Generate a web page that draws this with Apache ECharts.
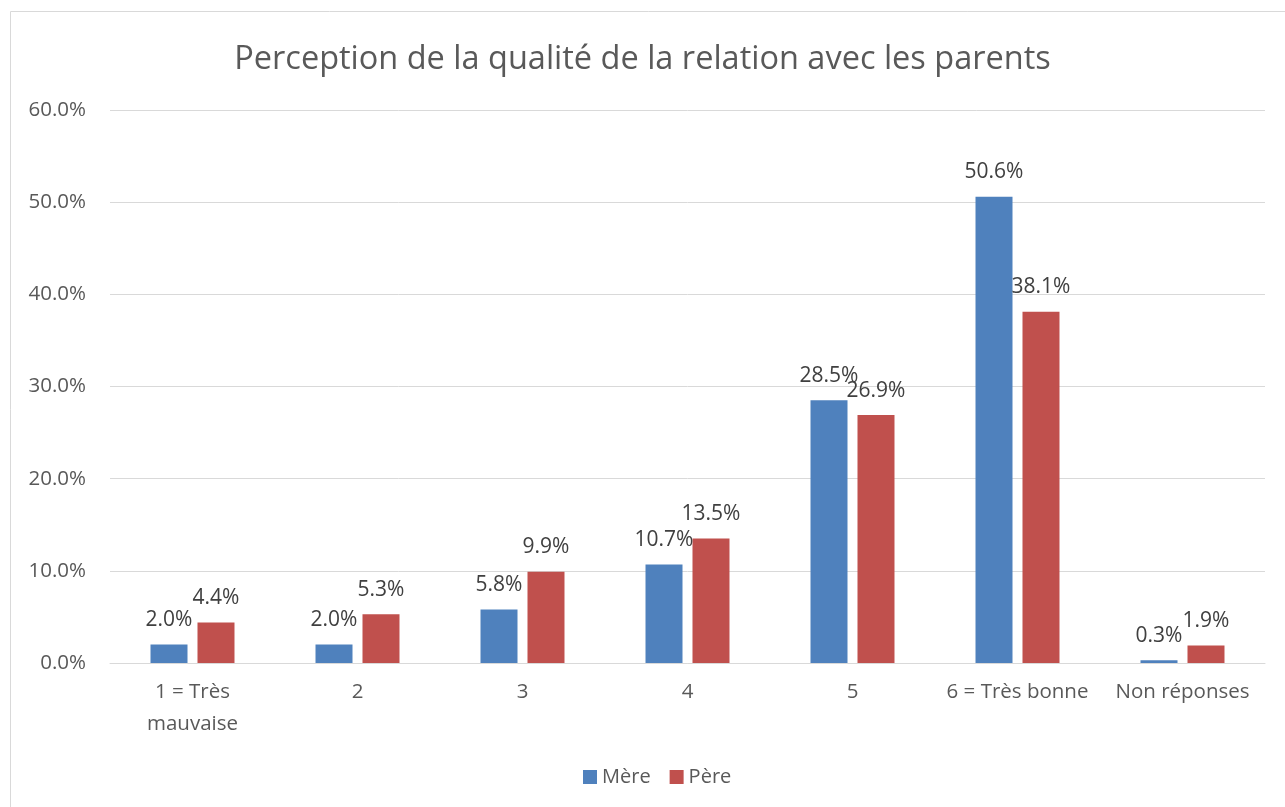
<!DOCTYPE html>
<html>
<head>
<meta charset="utf-8">
<script src="https://cdn.jsdelivr.net/npm/echarts@6/dist/echarts.min.js"></script>
<style>
    html, body { margin: 0; padding: 0; background: #fff; }
    #chart { width: 1285px; height: 807px; }
</style>
</head>
<body>
<div id="chart"></div>
<script>
    var categories = ['1 = Très\nmauvaise', '2', '3', '4', '5', '6 = Très bonne', 'Non réponses'];
    var mere = [2.0, 2.0, 5.8, 10.7, 28.5, 50.6, 0.3];
    var pere = [4.4, 5.3, 9.9, 13.5, 26.9, 38.1, 1.9];
    var seriesNames = ['Mère', 'Père'];

    var font = '"Open Sans", "Liberation Sans", sans-serif';
    var myChart = echarts.init(document.getElementById('chart'));

    var labelOpt = {
        show: true,
        position: 'top',
        distance: 14,
        color: '#404040',
        fontSize: 21,
        fontFamily: font,
        formatter: function (p) { return p.value.toFixed(1) + '%'; }
    };

    var option = {
        animation: false,
        textStyle: { fontFamily: font },
        graphic: [{
            type: 'rect',
            shape: { x: 10.5, y: 11.5, width: 1290, height: 810 },
            style: { fill: 'none', stroke: '#d9d9d9', lineWidth: 1 }
        }],
        title: {
            text: 'Perception de la qualité de la relation avec les parents',
            left: 'center',
            top: 38,
            textStyle: { color: '#595959', fontSize: 32.5, fontWeight: 'normal', fontFamily: font }
        },
        legend: {
            data: seriesNames,
            bottom: 15,
            left: 578,
            itemWidth: 14,
            itemHeight: 14,
            itemGap: 19,
            icon: 'rect',
            textStyle: { color: '#595959', fontSize: 20, fontFamily: font }
        },
        grid: { left: 110, right: 20, top: 110, bottom: 144, containLabel: false },
        xAxis: {
            type: 'category',
            data: categories,
            axisLine: { lineStyle: { color: '#d9d9d9' } },
            axisTick: { show: false },
            axisLabel: { color: '#595959', fontSize: 20.5, fontFamily: font, margin: 13, lineHeight: 32, interval: 0 }
        },
        yAxis: {
            type: 'value',
            min: 0,
            max: 60,
            interval: 10,
            axisLine: { show: false },
            axisTick: { show: false },
            axisLabel: {
                color: '#595959', fontSize: 20.5, fontFamily: font, margin: 24,
                formatter: function (v) { return v.toFixed(1) + '%'; }
            },
            splitLine: { lineStyle: { color: '#d9d9d9' } }
        },
        series: [
            {
                name: seriesNames[0],
                type: 'bar',
                data: mere,
                barWidth: 37,
                barGap: '27%',
                itemStyle: { color: '#4f81bd' },
                label: labelOpt
            },
            {
                name: seriesNames[1],
                type: 'bar',
                data: pere,
                barWidth: 37,
                itemStyle: { color: '#c0504d' },
                label: labelOpt
            }
        ]
    };
    myChart.setOption(option);
</script>
</body>
</html>
